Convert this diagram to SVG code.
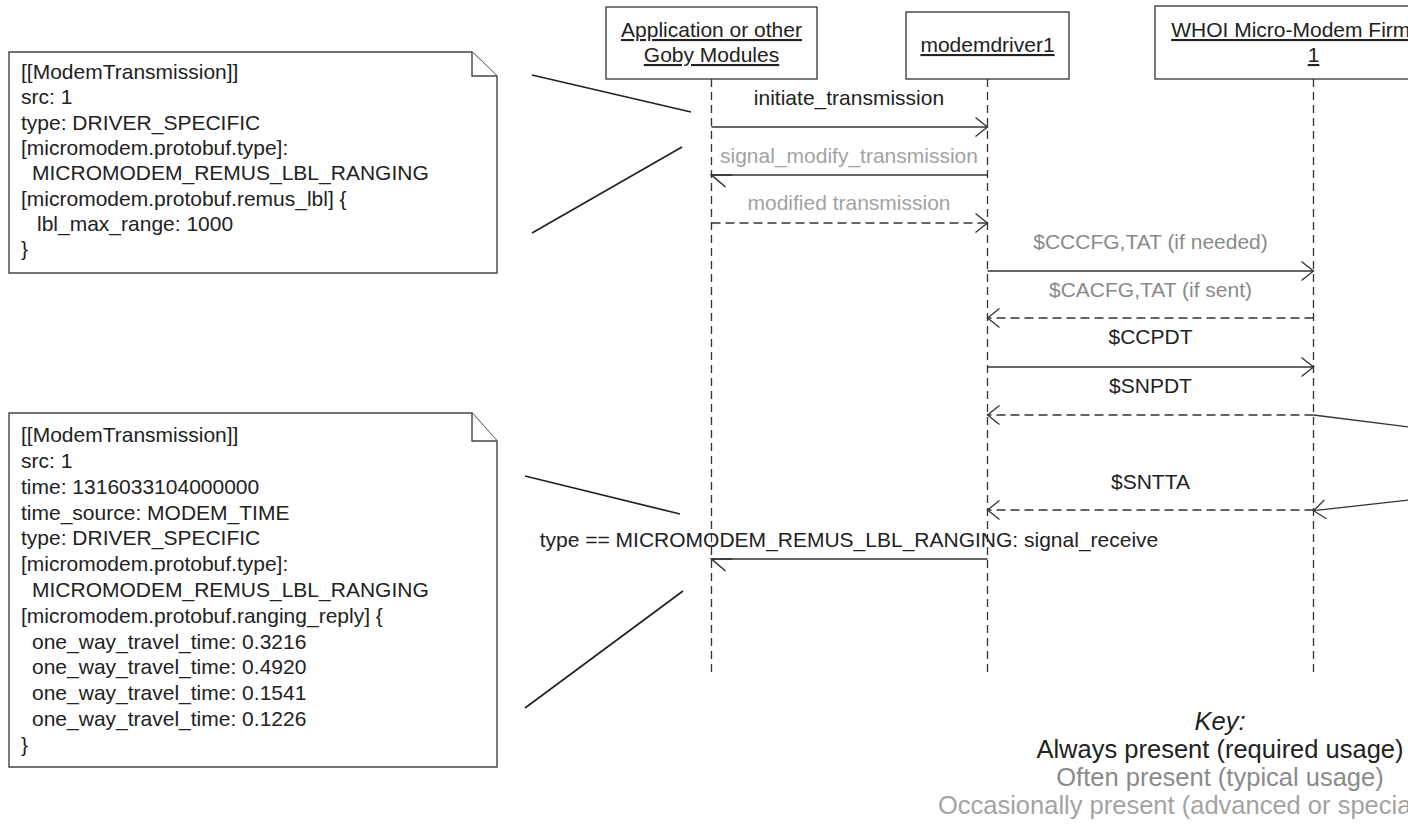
<svg xmlns="http://www.w3.org/2000/svg" width="1408" height="836" viewBox="0 0 1408 836">
  <style>
    .t { font-family: "Liberation Sans", Arial, sans-serif; font-size: 21px; fill: #222; }
    .mid { text-anchor: middle; }
    .ul { text-decoration: underline; }
    .often { fill: #8a8a8a; }
    .occ { fill: #a3a3a3; }
    .key { font-family: "Liberation Sans", Arial, sans-serif; font-size: 25.5px; text-anchor: middle; }
    .box { fill: #fff; stroke: #333; stroke-width: 1.3; }
    .note { fill: #fff; stroke: #444; stroke-width: 1.4; stroke-linejoin: miter; }
    .life { stroke: #333; stroke-width: 1.3; stroke-dasharray: 8 5; fill: none; }
    .msg { stroke: #333; stroke-width: 1.3; fill: none; }
    .dash { stroke-dasharray: 9 5; }
    .anchor { stroke: #222; stroke-width: 1.7; fill: none; }
  </style>
  <defs>
    <marker id="open" markerUnits="userSpaceOnUse" markerWidth="30" markerHeight="30" viewBox="-15 -15 30 30" refX="0" refY="0" orient="auto">
      <path d="M-12,-9.5 L0,0 L-12,9.5" fill="none" stroke="#333" stroke-width="1.3"/>
    </marker>
    <marker id="half" markerUnits="userSpaceOnUse" markerWidth="40" markerHeight="40" viewBox="-20 -20 40 40" refX="0" refY="0" orient="auto">
      <path d="M-14,-12 L0,0 L-23,0" fill="none" stroke="#333" stroke-width="1.6"/>
    </marker>
  </defs>

  <rect width="1408" height="836" fill="#fff"/>

  <!-- lifeline heads -->
  <g id="app">
    <rect class="box" x="606" y="7" width="211" height="72"/>
    <text class="t mid ul" x="711.5" y="37">Application or other</text>
    <text class="t mid ul" x="711.5" y="62">Goby Modules</text>
    <line class="life" x1="711.5" y1="79" x2="711.5" y2="672"/>
  </g>
  <g id="modemdriver1">
    <rect class="box" x="906" y="12" width="163" height="67"/>
    <text class="t mid ul" x="987.5" y="52">modemdriver1</text>
    <line class="life" x1="987.5" y1="79" x2="987.5" y2="672"/>
  </g>
  <g id="firmware">
    <rect class="box" x="1155" y="6" width="316" height="73"/>
    <text class="t mid ul" x="1313.5" y="37">WHOI Micro-Modem Firmware</text>
    <text class="t mid ul" x="1313.5" y="62">1</text>
    <line class="life" x1="1313.5" y1="79" x2="1313.5" y2="672"/>
  </g>

  <!-- note: outgoing transmission -->
  <g id="note-transmit">
    <path class="note" d="M9,52 H472 L497,76 V273 H9 Z"/>
    <path class="note" d="M472,52 V76 H497" fill="none"/>
    <text class="t" x="21" y="79">[[ModemTransmission]]</text>
    <text class="t" x="21" y="104">src: 1</text>
    <text class="t" x="21" y="129.5">type: DRIVER_SPECIFIC</text>
    <text class="t" x="21" y="155">[micromodem.protobuf.type]:</text>
    <text class="t" x="32" y="180">MICROMODEM_REMUS_LBL_RANGING</text>
    <text class="t" x="21" y="205.5">[micromodem.protobuf.remus_lbl] {</text>
    <text class="t" x="37" y="231">lbl_max_range: 1000</text>
    <text class="t" x="21" y="256">}</text>
  </g>

  <!-- note: ranging reply -->
  <g id="note-reply">
    <path class="note" d="M9,413 H472 L497,441 V767 H9 Z"/>
    <path class="note" d="M472,413 V441 H497" fill="none"/>
    <text class="t" x="21" y="442">[[ModemTransmission]]</text>
    <text class="t" x="21" y="468">src: 1</text>
    <text class="t" x="21" y="493.5">time: 1316033104000000</text>
    <text class="t" x="21" y="519.5">time_source: MODEM_TIME</text>
    <text class="t" x="21" y="545">type: DRIVER_SPECIFIC</text>
    <text class="t" x="21" y="571">[micromodem.protobuf.type]:</text>
    <text class="t" x="32" y="597">MICROMODEM_REMUS_LBL_RANGING</text>
    <text class="t" x="21" y="622.5">[micromodem.protobuf.ranging_reply] {</text>
    <text class="t" x="32" y="648.5">one_way_travel_time: 0.3216</text>
    <text class="t" x="32" y="674">one_way_travel_time: 0.4920</text>
    <text class="t" x="32" y="700">one_way_travel_time: 0.1541</text>
    <text class="t" x="32" y="726">one_way_travel_time: 0.1226</text>
    <text class="t" x="21" y="752">}</text>
  </g>

  <!-- messages and note anchors -->
  <g id="connectors">
    <line class="anchor" x1="532" y1="75" x2="691" y2="112"/>
    <line class="anchor" x1="682" y1="147" x2="532" y2="233"/>
    <line class="anchor" x1="525" y1="476" x2="680" y2="514"/>
    <line class="anchor" x1="683" y1="591" x2="525" y2="708"/>

    <line class="msg" x1="711.5" y1="127" x2="987.5" y2="127" marker-end="url(#open)"/>
    <text class="t mid" x="849" y="105">initiate_transmission</text>

    <line class="msg" x1="987.5" y1="175" x2="711.5" y2="175" marker-end="url(#half)"/>
    <text class="t mid occ" x="849" y="163">signal_modify_transmission</text>

    <line class="msg dash" x1="711.5" y1="223" x2="987.5" y2="223" marker-end="url(#open)"/>
    <text class="t mid occ" x="849" y="210">modified transmission</text>

    <line class="msg" x1="987.5" y1="271" x2="1313.5" y2="271" marker-end="url(#open)"/>
    <text class="t mid often" x="1150.5" y="249">$CCCFG,TAT (if needed)</text>

    <line class="msg dash" x1="1313.5" y1="318" x2="987.5" y2="318" marker-end="url(#open)"/>
    <text class="t mid often" x="1150.5" y="297">$CACFG,TAT (if sent)</text>

    <line class="msg" x1="987.5" y1="367" x2="1313.5" y2="367" marker-end="url(#open)"/>
    <text class="t mid" x="1150.5" y="344">$CCPDT</text>

    <line class="msg dash" x1="1313.5" y1="415" x2="987.5" y2="415" marker-end="url(#open)"/>
    <text class="t mid" x="1150.5" y="393">$SNPDT</text>

    <line class="msg" x1="1313.5" y1="415" x2="1430" y2="429.7"/>
    <line class="msg" x1="1430" y1="497.6" x2="1313.5" y2="510.7" marker-end="url(#open)"/>

    <line class="msg dash" x1="1313.5" y1="510" x2="987.5" y2="510" marker-end="url(#open)"/>
    <text class="t mid" x="1150.5" y="489">$SNTTA</text>

    <line class="msg" x1="987.5" y1="559" x2="711.5" y2="559" marker-end="url(#half)"/>
    <text class="t mid" x="849" y="547">type == MICROMODEM_REMUS_LBL_RANGING: signal_receive</text>
  </g>

  <!-- legend -->
  <g id="legend">
    <text class="key" x="1220" y="730" font-style="italic" fill="#222">Key:</text>
    <text class="key" x="1220" y="758" fill="#222">Always present (required usage)</text>
    <text class="key" x="1220" y="786" fill="#8a8a8a">Often present (typical usage)</text>
    <text class="key" x="1220" y="814" fill="#a3a3a3">Occasionally present (advanced or special usage)</text>
  </g>
</svg>
